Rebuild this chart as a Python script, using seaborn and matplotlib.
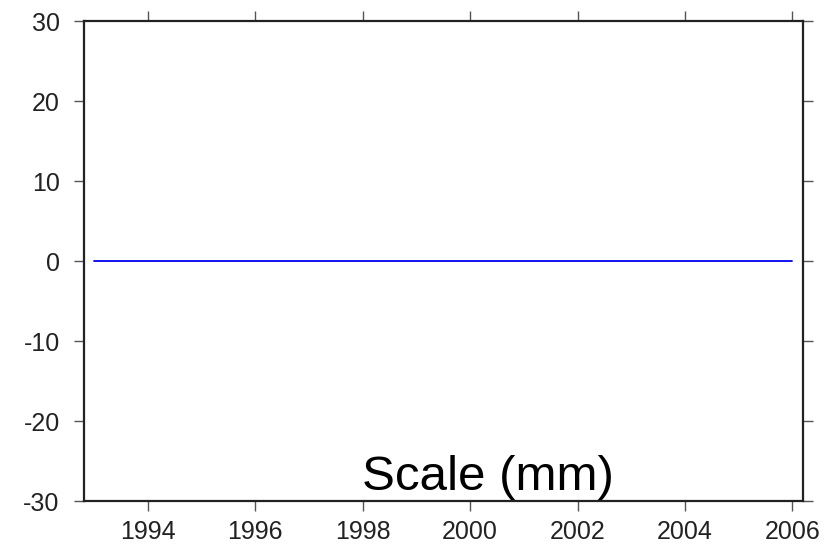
import matplotlib
matplotlib.use("Agg")
import matplotlib.pyplot as plt
import seaborn as sns
import pandas as pd

years = [1993.0, 2006.0]
values = [0.0, 0.0]
xticks = [1994, 1996, 1998, 2000, 2002, 2004, 2006]
yticks = [-30, -20, -10, 0, 10, 20, 30]
label = "Scale (mm)"

sns.set_style("white")
plt.rcParams['font.family'] = ['Liberation Sans', 'DejaVu Sans']

df = pd.DataFrame({"year": years, "value": values})

fig = plt.figure(figsize=(8.4, 5.49), dpi=100)
ax = fig.add_axes([0.1, 0.0874, 0.856, 0.8743])
sns.lineplot(data=df, x="year", y="value", ax=ax, color="#0000ee", linewidth=1.3)

ax.set_xlim(1992.81, 2006.2)
ax.set_ylim(-30, 30)
ax.set_xticks(xticks)
ax.set_yticks(yticks)
ax.set_xticklabels([str(t) for t in xticks])
ax.set_yticklabels([str(t) for t in yticks])
ax.set_xlabel("")
ax.set_ylabel("")
for s in ax.spines.values():
    s.set_linewidth(1.6)
    s.set_color("#222222")
ax.tick_params(axis="both", which="both", direction="out", length=7.5, width=1,
               color="#555555", labelsize=18, labelcolor="#222222", pad=6,
               top=True, right=True, bottom=True, left=True,
               labeltop=False, labelright=False)
ax.tick_params(axis="y", pad=10)
ax.text(0.562, 0.003, label, transform=ax.transAxes, ha="center", va="bottom",
        fontsize=35.5, color="black")
fig.savefig("out.png", dpi=100)
